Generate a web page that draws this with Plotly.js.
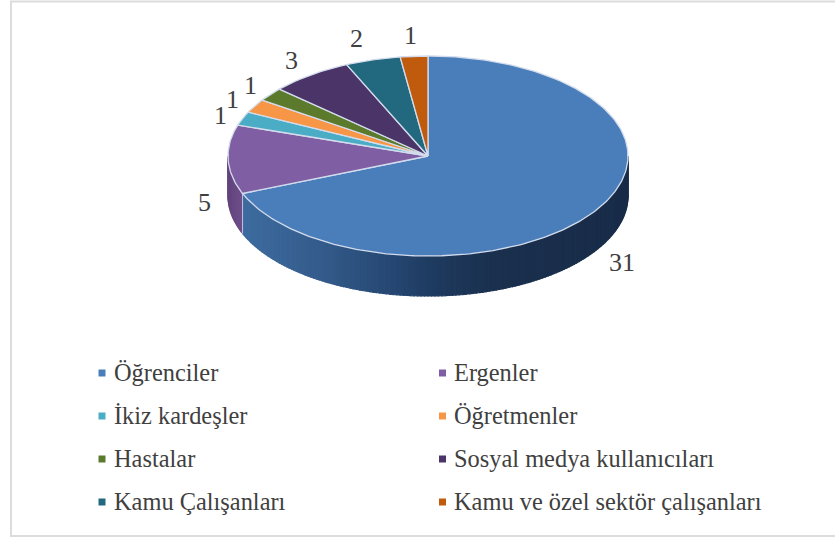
<!DOCTYPE html>
<html><head><meta charset="utf-8">
<script src="https://cdn.plot.ly/plotly-3.0.1.min.js"></script>
<style>html,body{margin:0;padding:0;background:#fff;overflow:hidden}#c{width:835px;height:537px}</style>
</head><body><div id="c"></div>
<script>
const categories = ["Öğrenciler","Ergenler","İkiz kardeşler","Öğretmenler","Hastalar","Sosyal medya kullanıcıları","Kamu Çalışanları","Kamu ve özel sektör çalışanları"];
const values = [31,5,1,1,1,3,2,1];
const topColors = ["#4a7ebb","#7f5ea3","#4bacc6","#f79646","#5b7a2c","#4b3468","#22687f","#c05a0c"];
const labelPx = [[622,262],[204,202],[220,115],[232,99],[250,85],[291,60],[356,38],[410,35]];
const legendPx = [[102,373],[442.5,373],[102,416],[442.5,416],[102,459],[442.5,459],[102,502],[442.5,502]];

const W=835,H=537,CX=428,CY=156,RX=200,RY=100,DEPTH=40;
const total=values.reduce((a,b)=>a+b,0);
const pt=(deg,dy=0)=>[CX+RX*Math.sin(deg*Math.PI/180),CY-RY*Math.cos(deg*Math.PI/180)+dy];
const traces=[];
function poly(xs,ys,fill,line,lw){traces.push({type:'scatter',mode:'lines',x:xs,y:ys,fill:'toself',fillcolor:fill,
  line:{color:line||fill,width:lw===undefined?0.5:lw},showlegend:false,hoverinfo:'skip'});}
function mix(a,b,t){return 'rgb('+a.map((v,i)=>Math.round(v+(b[i]-v)*t)).join(',')+')';}
const wallStops=[[0,[24,44,72]],[0.35,[26,48,78]],[0.5,[30,58,95]],[0.62,[38,72,115]],[0.8,[52,92,140]],[1,[62,108,160]]];
function wallColor(x){const t=Math.max(0,Math.min(1,(630-x)/390));
  for(let i=1;i<wallStops.length;i++){if(t<=wallStops[i][0]){const [a,ca]=wallStops[i-1],[b,cb]=wallStops[i];return mix(ca,cb,(t-a)/(b-a));}}
  return mix(wallStops[4][1],wallStops[5][1],1);}
let acc=0;const slices=values.map((v,i)=>{const s=acc/total*360;acc+=v;return {s,e:acc/total*360,i};});
function wall(a0,a1,colorFn){const step=1;for(let a=a0;a<a1;a+=step){const b=Math.min(a+step,a1);
  const p=pt(a),q=pt(b),q2=pt(b,DEPTH),p2=pt(a,DEPTH);const c=colorFn((p[0]+q[0])/2);
  poly([p[0],q[0],q2[0],p2[0],p[0]],[p[1],q[1],q2[1],p2[1],p[1]],c,c,1.2);}}
wall(90,slices[0].e,wallColor);
wall(slices[0].e,270,x=>mix([98,68,125],[112,80,140],(x-228)/15));
{const a=pt(slices[0].e),b=pt(slices[0].e,DEPTH);traces.push({type:'scatter',mode:'lines',x:[a[0],b[0]],y:[a[1],b[1]],line:{color:'#b9c6dc',width:1},showlegend:false,hoverinfo:'skip'});}
slices.forEach(sl=>{const xs=[CX],ys=[CY];const n=Math.max(4,Math.ceil((sl.e-sl.s)));
  for(let k=0;k<=n;k++){const p=pt(sl.s+(sl.e-sl.s)*k/n);xs.push(p[0]);ys.push(p[1]);}
  xs.push(CX);ys.push(CY);poly(xs,ys,topColors[sl.i],'#d3dcec',1.3);});
const annotations=[];
categories.forEach((c,i)=>{const [x,y]=legendPx[i];
  traces.push({type:'scatter',mode:'markers',x:[x],y:[y],name:c,marker:{symbol:'square',size:7,color:topColors[i]},showlegend:false,hoverinfo:'name'});
  annotations.push({x:x+9.5,y:y-1,xref:'x',yref:'y',text:c,showarrow:false,xanchor:'left',yanchor:'middle',font:{family:'Liberation Serif',size:24.4,color:'#404040'}});
});
values.forEach((v,i)=>{const [x,y]=labelPx[i];
  annotations.push({x,y,xref:'x',yref:'y',text:String(v),showarrow:false,xanchor:'center',yanchor:'middle',font:{family:'Liberation Serif',size:26,color:'#404040'}});});
Plotly.newPlot('c',traces,{width:W,height:H,margin:{l:0,r:0,t:0,b:0},paper_bgcolor:'#fff',plot_bgcolor:'#fff',showlegend:false,
  xaxis:{range:[0,W],visible:false,fixedrange:true},yaxis:{range:[H,0],visible:false,fixedrange:true},annotations,
  shapes:[{type:'rect',xref:'paper',yref:'paper',x0:11/W,x1:840/W,y0:1-536/H,y1:1-1.5/H,line:{color:'#dcdcdc',width:2},fillcolor:'rgba(0,0,0,0)',layer:'below'}]
},{displayModeBar:false,staticPlot:true});
</script></body></html>
